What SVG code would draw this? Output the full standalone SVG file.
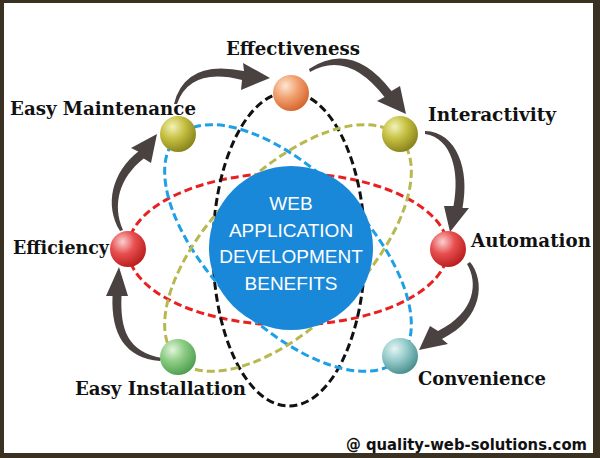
<svg xmlns="http://www.w3.org/2000/svg" width="600" height="458" viewBox="0 0 600 458">
<style>
.orb{fill:none;stroke-width:3;stroke-dasharray:8 4}
.lbl{font-family:"DejaVu Serif","Liberation Serif",serif;font-weight:bold;font-size:18px;fill:#111}
.ctr{font-family:"Liberation Sans",Arial,sans-serif;font-size:19px;fill:#fff;text-anchor:middle}
.arr{fill:#4a4240}
</style>
<defs>
<radialGradient id="gO" cx="35%" cy="30%" r="75%"><stop offset="0" stop-color="#fde6d2"/><stop offset="0.45" stop-color="#f2a272"/><stop offset="1" stop-color="#d4622a"/></radialGradient>
<radialGradient id="gY" cx="35%" cy="30%" r="75%"><stop offset="0" stop-color="#f2f2b8"/><stop offset="0.45" stop-color="#c6c042"/><stop offset="1" stop-color="#86801a"/></radialGradient>
<radialGradient id="gR" cx="35%" cy="30%" r="75%"><stop offset="0" stop-color="#fbd0d0"/><stop offset="0.45" stop-color="#e85050"/><stop offset="1" stop-color="#b81a1a"/></radialGradient>
<radialGradient id="gG" cx="35%" cy="30%" r="75%"><stop offset="0" stop-color="#e2f4dc"/><stop offset="0.45" stop-color="#8ccc84"/><stop offset="1" stop-color="#4c9c4c"/></radialGradient>
<radialGradient id="gT" cx="35%" cy="30%" r="75%"><stop offset="0" stop-color="#e6f4f4"/><stop offset="0.45" stop-color="#96cccc"/><stop offset="1" stop-color="#468c8c"/></radialGradient>
</defs>
<rect x="0" y="0" width="600" height="458" fill="#3b3122"/>
<rect x="4" y="3" width="589" height="450" fill="#fff"/>
<g id="orbits">
<ellipse class="orb" cx="288" cy="249" rx="160" ry="76" stroke="#e82020"/>
<ellipse class="orb" cx="289" cy="249" rx="76" ry="157" stroke="#111"/>
<ellipse class="orb" cx="288" cy="248" rx="157" ry="76" stroke="#1ea0e6" transform="rotate(45 288 248)"/>
<ellipse class="orb" cx="288" cy="248" rx="157" ry="76" stroke="#b8b850" transform="rotate(-45 288 248)"/>
</g>
<g id="center">
<circle cx="291" cy="248" r="82" fill="#1a88d8"/>
<text class="ctr" x="291" y="210">WEB</text>
<text class="ctr" x="291" y="237">APPLICATION</text>
<text class="ctr" x="291" y="263">DEVELOPMENT</text>
<text class="ctr" x="291" y="290">BENEFITS</text>
</g>
<g id="connectors">
<path class="arr" d="M174,104 Q185,59 244,71 L243,63 L270,78 L241,90 L242,80 Q190,67 177,104 Z"/>
<path class="arr" d="M309,69 Q352,40 391.5,91 L400,86 L406,114 L377,101 L384.5,97 Q348,50 310,72 Z"/>
<path class="arr" d="M425,131 C457,132 470,170 462.5,208 L469,208 L450,232 L444,206 L453.5,206 C460,172 452,138 425,134 Z"/>
<path class="arr" d="M470,262 C485,280 484,318 442,339 L448,344 L419,350 L430,326 L438,331 C476,312 478,282 467,264 Z"/>
<path class="arr" d="M162,358 C128,352 120,330 121.5,296 L128,296 L119,267 L106,296 L112.5,296 C111,334 125,358 160,361 Z"/>
<path class="arr" d="M123,230 C112,205 119,178 143.7,158.6 L151,163 L157,134 L131,148 L138.3,151.4 C112,172 104,205 120,231 Z"/>
</g>
<g id="effectiveness"><circle cx="291" cy="93" r="18" fill="url(#gO)"/><text class="lbl" x="226" y="55" textLength="134" lengthAdjust="spacingAndGlyphs">Effectiveness</text></g>
<g id="easy-maintenance"><circle cx="178" cy="134" r="18" fill="url(#gY)"/><text class="lbl" x="10" y="115" textLength="186" lengthAdjust="spacingAndGlyphs">Easy Maintenance</text></g>
<g id="interactivity"><circle cx="400" cy="134" r="18" fill="url(#gY)"/><text class="lbl" x="428" y="121" textLength="128" lengthAdjust="spacingAndGlyphs">Interactivity</text></g>
<g id="efficiency"><circle cx="128" cy="249" r="18" fill="url(#gR)"/><text class="lbl" x="13" y="254" textLength="96" lengthAdjust="spacingAndGlyphs">Efficiency</text></g>
<g id="automation"><circle cx="448" cy="249" r="18" fill="url(#gR)"/><text class="lbl" x="471" y="247" textLength="120" lengthAdjust="spacingAndGlyphs">Automation</text></g>
<g id="easy-installation"><circle cx="178" cy="357" r="18" fill="url(#gG)"/><text class="lbl" x="75" y="395" textLength="171" lengthAdjust="spacingAndGlyphs">Easy Installation</text></g>
<g id="convenience"><circle cx="400" cy="356" r="18" fill="url(#gT)"/><text class="lbl" x="418" y="385" textLength="128" lengthAdjust="spacingAndGlyphs">Convenience</text></g>
<text x="346" y="450" font-family="'DejaVu Sans',Verdana,sans-serif" font-weight="bold" font-size="15" fill="#111" textLength="241" lengthAdjust="spacingAndGlyphs">@ quality-web-solutions.com</text>
</svg>
